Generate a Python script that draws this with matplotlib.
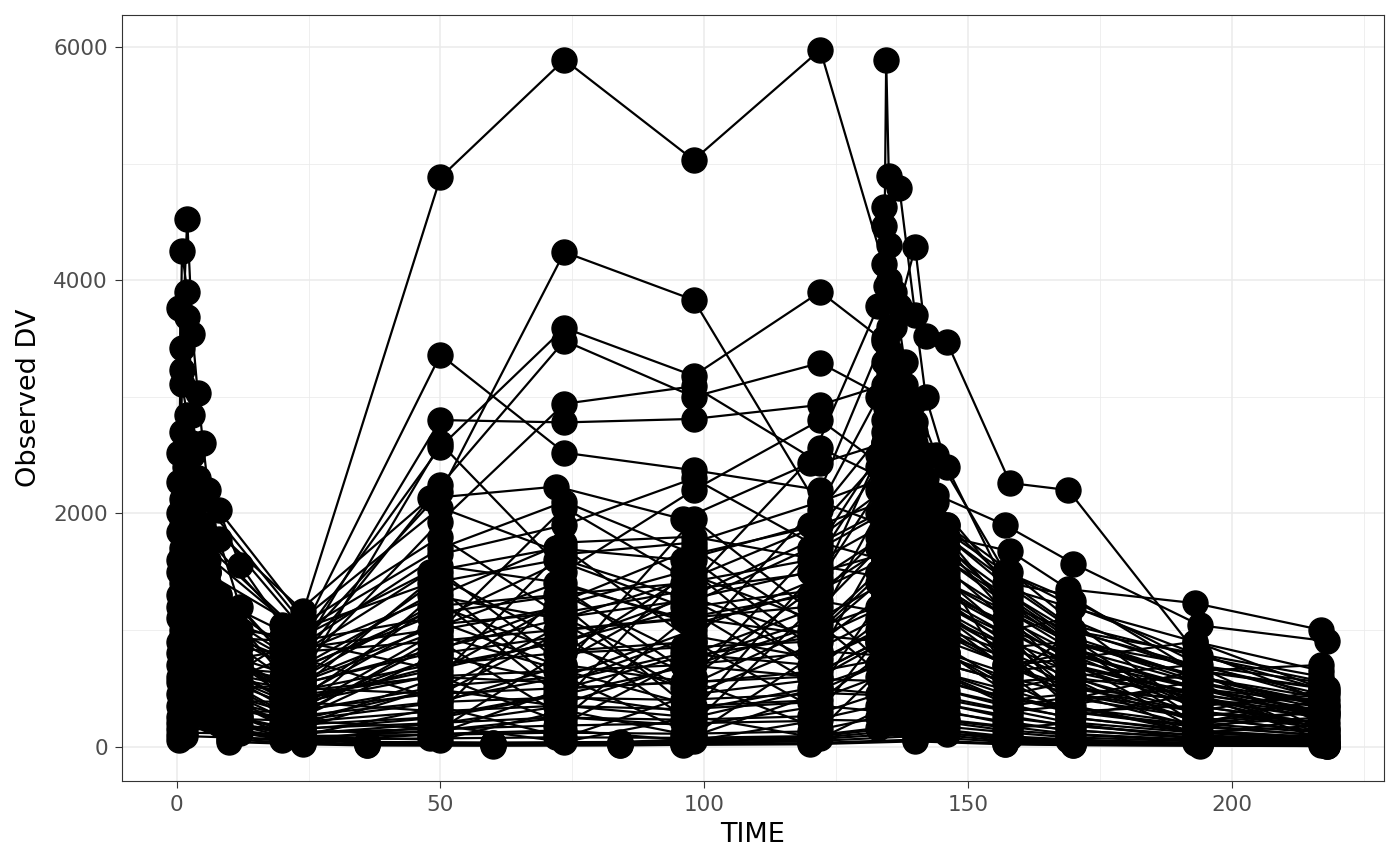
import pandas as pd
import matplotlib
matplotlib.use("Agg")
import matplotlib.pyplot as plt
from matplotlib.ticker import MultipleLocator

# Sampling times per study design
times_a = [0.5, 1, 2, 3, 4, 5, 6, 8, 12, 20, 48, 72, 96, 120,
           133, 134, 135, 136, 138, 140, 144, 157, 170, 194, 218]
times_b = [1.5, 24, 50, 73.5, 98, 122, 134, 134.5, 135, 137, 140, 142, 146,
           158, 169, 193, 217]
times_c = [10, 24, 36, 60, 84, 96, 120, 140, 157, 170, 194, 218]

# Design A: rich sampling after first and last dose
dv_a = [
    [1500, 3420, 4520, 3540, 3030, 2600, 2200, 2030, 1560, 1040, 2130, 2230, 1950, 2430,
     3780, 4630, 4300, 3900, 3300, 2960, 2500, 1500, 1250, 700, 400],
    [2520, 4250, 3900, 2840, 2300, 1900, 1600, 1300, 900, 700, 1500, 1700, 1600, 1900,
     3000, 4460, 4000, 3600, 3100, 2780, 2160, 1900, 1570, 1040, 905],
    [3760, 3230, 3680, 2600, 2200, 1800, 1500, 1100, 700, 500, 1200, 1300, 1400, 1600,
     2500, 3300, 3550, 3300, 2800, 2400, 1900, 1500, 1200, 780, 480],
    [2270, 3110, 2840, 2500, 2100, 1780, 1500, 1200, 850, 600, 1300, 1100, 1250, 1500,
     2400, 2800, 3100, 2900, 2600, 2200, 1700, 1300, 900, 600, 350],
    [1840, 2120, 2520, 2300, 1900, 1600, 1400, 1780, 1200, 800, 900, 1000, 1100, 1200,
     1800, 2300, 2600, 2500, 2300, 2000, 1600, 1100, 800, 500, 300],
    [900, 1700, 2000, 1800, 1600, 1400, 1200, 1000, 700, 450, 700, 800, 850, 900,
     1400, 1900, 2100, 2200, 1900, 1600, 1300, 900, 700, 400, 250],
    [600, 1200, 1650, 1500, 1350, 1150, 1000, 800, 550, 350, 600, 650, 700, 800,
     1100, 1500, 1800, 1700, 1500, 1300, 1000, 700, 500, 300, 150],
    [350, 800, 1300, 1400, 1200, 1050, 900, 700, 500, 300, 450, 500, 550, 600,
     900, 1200, 1400, 1350, 1200, 1000, 800, 600, 450, 250, 120],
    [1200, 1500, 1400, 1250, 1100, 950, 850, 650, 420, 250, 380, 420, 400, 450,
     700, 1000, 1200, 1150, 1000, 850, 650, 450, 300, 180, 90],
    [200, 600, 1000, 1100, 950, 800, 700, 550, 380, 200, 300, 350, 320, 380,
     600, 800, 950, 900, 800, 650, 500, 350, 250, 120, 60],
    [800, 1000, 900, 800, 700, 600, 520, 400, 250, 150, 200, 250, 230, 260,
     450, 600, 700, 680, 600, 500, 380, 250, 180, 90, 40],
    [150, 400, 700, 800, 700, 600, 500, 380, 250, 120, 150, 180, 200, 220,
     350, 480, 600, 560, 500, 420, 320, 200, 140, 70, 30],
    [100, 250, 450, 500, 450, 400, 350, 280, 180, 90, 100, 120, 110, 130,
     250, 350, 420, 400, 350, 300, 220, 140, 100, 50, 25],
    [60, 150, 300, 350, 320, 280, 240, 190, 120, 60, 70, 80, 75, 90,
     160, 240, 300, 280, 250, 200, 150, 90, 60, 30, 15],
    [1100, 2270, 1840, 1600, 1400, 1200, 1050, 900, 650, 880, 1100, 700, 1300, 950,
     1500, 1800, 2000, 2100, 2000, 1800, 1500, 1000, 700, 450, 280],
    [700, 1400, 1800, 2200, 1900, 1700, 1500, 1300, 1000, 950, 1400, 1600, 1200, 1700,
     2000, 2400, 2700, 2800, 2600, 2300, 1900, 1200, 900, 550, 350],
    [2000, 2700, 2300, 2000, 1700, 1500, 1300, 1050, 750, 500, 800, 1200, 1500, 1100,
     1700, 2000, 2200, 2400, 2300, 2100, 1800, 1250, 850, 350, 450],
    [450, 950, 1200, 1300, 1150, 1000, 850, 700, 480, 280, 500, 350, 700, 600,
     900, 1100, 1300, 1400, 1300, 1100, 900, 550, 600, 200, 300],
    [1600, 1900, 1700, 1500, 1300, 1100, 950, 750, 520, 380, 650, 900, 500, 1000,
     1200, 1600, 1800, 1900, 1700, 1500, 1200, 800, 500, 400, 150],
    [250, 500, 850, 900, 800, 750, 650, 520, 350, 180, 250, 450, 300, 500,
     700, 900, 1000, 1050, 950, 800, 650, 400, 350, 120, 80],
    [1300, 1650, 2200, 1950, 1700, 1450, 1250, 1000, 760, 820, 1000, 1400, 1100, 1300,
     2200, 2600, 2950, 3100, 2900, 2600, 2100, 1400, 1000, 650, 500],
    [550, 1100, 1550, 1700, 1500, 1300, 1150, 900, 620, 420, 600, 550, 800, 700,
     1000, 1300, 1500, 1600, 1500, 1300, 1050, 700, 450, 300, 200],
]

# Design B: sparse daily samples plus last-dose profile
dv_b = [
    [2100, 1160, 4880, 5890, 5030, 5975, 4135, 3950, 3600, 3100, 2700, 2500, 1800, 1675, 1350, 1230, 1000],
    [1400, 900, 2180, 4240, 3830, 2030, 2700, 2600, 2500, 2400, 2200, 2000, 1700, 1300, 1000, 700, 450],
    [1600, 1000, 3360, 2520, 2370, 2200, 3500, 5890, 4890, 4790, 3700, 3000, 2400, 1300, 950, 600, 380],
    [1200, 850, 2800, 2780, 2810, 2930, 3100, 3300, 3400, 3780, 4280, 3520, 3470, 2260, 2200, 820, 400],
    [1800, 950, 2570, 3590, 3180, 3900, 3480, 3300, 3200, 2900, 2500, 2300, 1900, 1500, 1100, 650, 500],
    [900, 780, 2240, 3480, 3000, 3290, 3000, 2900, 2800, 2600, 2400, 2100, 1800, 1400, 1050, 780, 560],
    [1100, 700, 1930, 2940, 3090, 2430, 2600, 2500, 2450, 2300, 2100, 1900, 1600, 1250, 900, 600, 420],
    [700, 620, 2600, 1500, 2200, 2800, 2400, 2300, 2250, 2100, 1900, 1700, 1400, 1100, 600, 700, 200],
    [1300, 560, 1000, 2050, 1400, 2560, 2300, 2200, 2100, 2000, 1800, 1600, 1350, 1000, 1100, 300, 480],
    [500, 520, 1500, 700, 1950, 1100, 2100, 2000, 1950, 1850, 1650, 1500, 1250, 950, 400, 650, 150],
    [650, 480, 600, 1700, 900, 2100, 1900, 1850, 1800, 1700, 1500, 1350, 1100, 850, 900, 200, 400],
    [1000, 430, 1250, 400, 1600, 800, 1750, 1700, 1650, 1550, 1400, 1250, 1000, 800, 350, 560, 100],
    [400, 380, 300, 1350, 600, 1750, 1600, 1550, 1500, 1400, 1250, 1100, 900, 700, 750, 150, 320],
    [750, 330, 1000, 1200, 300, 1550, 1450, 1400, 1350, 1250, 1100, 1000, 800, 620, 250, 450, 60],
    [300, 300, 900, 250, 1150, 500, 1300, 1250, 1200, 1100, 1000, 900, 700, 550, 600, 100, 240],
    [550, 260, 800, 950, 200, 1250, 1150, 1100, 1050, 1000, 900, 800, 620, 480, 340, 200, 120],
    [250, 220, 150, 820, 900, 300, 1000, 980, 950, 900, 800, 700, 550, 420, 300, 170, 100],
    [450, 190, 600, 200, 780, 950, 900, 870, 850, 800, 700, 620, 480, 360, 250, 140, 80],
    [180, 160, 520, 600, 100, 820, 780, 760, 740, 700, 620, 540, 420, 310, 210, 120, 70],
    [350, 130, 120, 500, 560, 150, 680, 660, 640, 600, 530, 460, 360, 260, 180, 100, 55],
    [120, 100, 340, 80, 450, 580, 560, 540, 520, 480, 420, 370, 290, 210, 140, 80, 45],
    [280, 80, 60, 310, 90, 460, 440, 430, 420, 390, 340, 300, 230, 170, 110, 60, 35],
    [90, 60, 180, 40, 260, 70, 330, 320, 310, 290, 250, 220, 170, 120, 80, 45, 25],
    [200, 40, 110, 140, 50, 230, 220, 210, 205, 190, 170, 150, 110, 80, 55, 30, 15],
    [1700, 600, 1450, 900, 1300, 1800, 2200, 2100, 2000, 1900, 1700, 1500, 1300, 1000, 800, 500, 300],
    [950, 900, 650, 1250, 1700, 1000, 1500, 1600, 1700, 1800, 1600, 1400, 1200, 900, 500, 400, 250],
    [2300, 1050, 1800, 1100, 600, 1400, 2600, 2700, 2800, 2500, 2100, 1800, 1500, 1150, 850, 550, 330],
    [600, 450, 1100, 1600, 1250, 700, 1100, 1300, 1500, 1650, 1550, 1350, 1100, 700, 800, 350, 200],
    [1450, 750, 400, 600, 1000, 1450, 1800, 1900, 2000, 2100, 1900, 1700, 1450, 600, 950, 250, 380],
    [850, 320, 1350, 500, 800, 1200, 700, 800, 900, 1000, 1200, 1300, 1150, 850, 650, 420, 280],
    [2000, 880, 1650, 1900, 2300, 1700, 2000, 2200, 2400, 2600, 2300, 2000, 1700, 1100, 750, 900, 500],
    [350, 240, 500, 1050, 450, 900, 1300, 1250, 1200, 1150, 1050, 950, 800, 500, 600, 300, 180],
    [1250, 680, 1200, 800, 1500, 600, 900, 1000, 1100, 1300, 1500, 1400, 1200, 950, 550, 600, 350],
    [500, 150, 250, 450, 700, 1050, 600, 650, 700, 750, 800, 700, 550, 400, 450, 180, 250],
    [1900, 950, 1550, 1400, 1050, 1350, 1700, 1800, 1900, 2200, 2000, 1800, 1600, 1200, 1000, 800, 600],
    [780, 540, 850, 1100, 1450, 1900, 2100, 2300, 2500, 2400, 2000, 1700, 1350, 1000, 700, 450, 150],
    [1150, 280, 950, 650, 350, 400, 800, 900, 1000, 1050, 950, 850, 700, 550, 300, 350, 200],
    [420, 820, 1300, 1750, 1800, 1600, 1900, 2000, 2100, 2000, 1800, 1600, 1400, 1150, 900, 700, 550],
    [1600, 400, 700, 900, 1200, 1350, 1600, 1700, 1800, 1700, 1500, 1300, 1100, 800, 600, 450, 300],
    [260, 110, 200, 350, 250, 500, 450, 500, 550, 600, 550, 500, 400, 300, 350, 120, 180],
    [2400, 1100, 2050, 1650, 1750, 2100, 2300, 2400, 2500, 2700, 2500, 2200, 1900, 1400, 1300, 650, 700],
    [700, 500, 450, 1000, 1100, 950, 1200, 1300, 1400, 1350, 1200, 1100, 950, 750, 400, 500, 250],
    [1350, 690, 1150, 1300, 750, 1100, 1400, 1500, 1600, 1500, 1400, 1200, 1050, 650, 700, 350, 420],
    [160, 70, 140, 250, 180, 350, 300, 320, 340, 360, 320, 280, 220, 160, 200, 70, 100],
    [1050, 360, 780, 550, 950, 750, 1000, 1100, 1200, 1250, 1100, 950, 800, 450, 550, 220, 300],
    [2200, 1000, 1700, 2100, 1650, 1900, 2500, 2600, 2700, 2650, 2400, 2100, 1800, 1350, 1200, 900, 650],
    [480, 230, 380, 700, 550, 650, 750, 800, 850, 900, 850, 750, 600, 350, 420, 250, 130],
    [900, 580, 1050, 1150, 1350, 1500, 1650, 1700, 1750, 1800, 1650, 1500, 1300, 1050, 750, 500, 380],
]

# Design C: low-level trough subjects
dv_c = [
    [120, 60, 30, 25, 30, 40, 60, 120, 50, 30, 20, 10],
    [80, 40, 20, 20, 25, 30, 45, 90, 40, 25, 15, 8],
    [200, 90, 40, 35, 40, 60, 80, 180, 70, 40, 25, 12],
    [60, 30, 15, 12, 15, 20, 30, 60, 25, 15, 10, 5],
    [150, 70, 35, 30, 30, 50, 70, 150, 60, 35, 20, 10],
    [40, 20, 10, 8, 10, 15, 20, 45, 20, 12, 8, 4],
]

rows = []
for design, times, profiles in [("A", times_a, dv_a), ("B", times_b, dv_b), ("C", times_c, dv_c)]:
    for i, prof in enumerate(profiles):
        for t, v in zip(times, prof):
            rows.append((f"{design}{i + 1}", t, v))
df = pd.DataFrame(rows, columns=["ID", "TIME", "DV"])

fig, ax = plt.subplots(figsize=(14, 8.66), dpi=100)
fig.subplots_adjust(left=0.0871, right=0.9886, bottom=0.0982, top=0.9827)

for _, g in df.groupby("ID"):
    g = g.sort_values("TIME")
    ax.plot(g["TIME"], g["DV"], color="black", lw=1.6, zorder=2)
ax.plot(df["TIME"], df["DV"], "o", color="black", ms=18, zorder=3)

# ggplot-like 5% expansion
xr = df["TIME"].max() - df["TIME"].min()
yr = df["DV"].max() - df["DV"].min()
ax.set_xlim(df["TIME"].min() - 0.05 * xr, df["TIME"].max() + 0.05 * xr)
ax.set_ylim(df["DV"].min() - 0.05 * yr, df["DV"].max() + 0.05 * yr)

ax.xaxis.set_major_locator(MultipleLocator(50))
ax.xaxis.set_minor_locator(MultipleLocator(25))
ax.yaxis.set_major_locator(MultipleLocator(2000))
ax.yaxis.set_minor_locator(MultipleLocator(1000))
ax.grid(which="major", color="#EBEBEB", lw=1.1)
ax.grid(which="minor", color="#EBEBEB", lw=0.55)
ax.set_axisbelow(True)

for s in ax.spines.values():
    s.set_color("#333333")
    s.set_linewidth(0.8)
ax.tick_params(which="major", length=5, width=0.8, color="#333333",
               labelcolor="#4D4D4D", labelsize=15.5, pad=5)
ax.tick_params(which="minor", length=0)

ax.set_xlabel("TIME", fontsize=19.5, labelpad=5)
ax.set_ylabel("Observed DV", fontsize=19.5, labelpad=8)

fig.savefig("out.png", dpi=100)
